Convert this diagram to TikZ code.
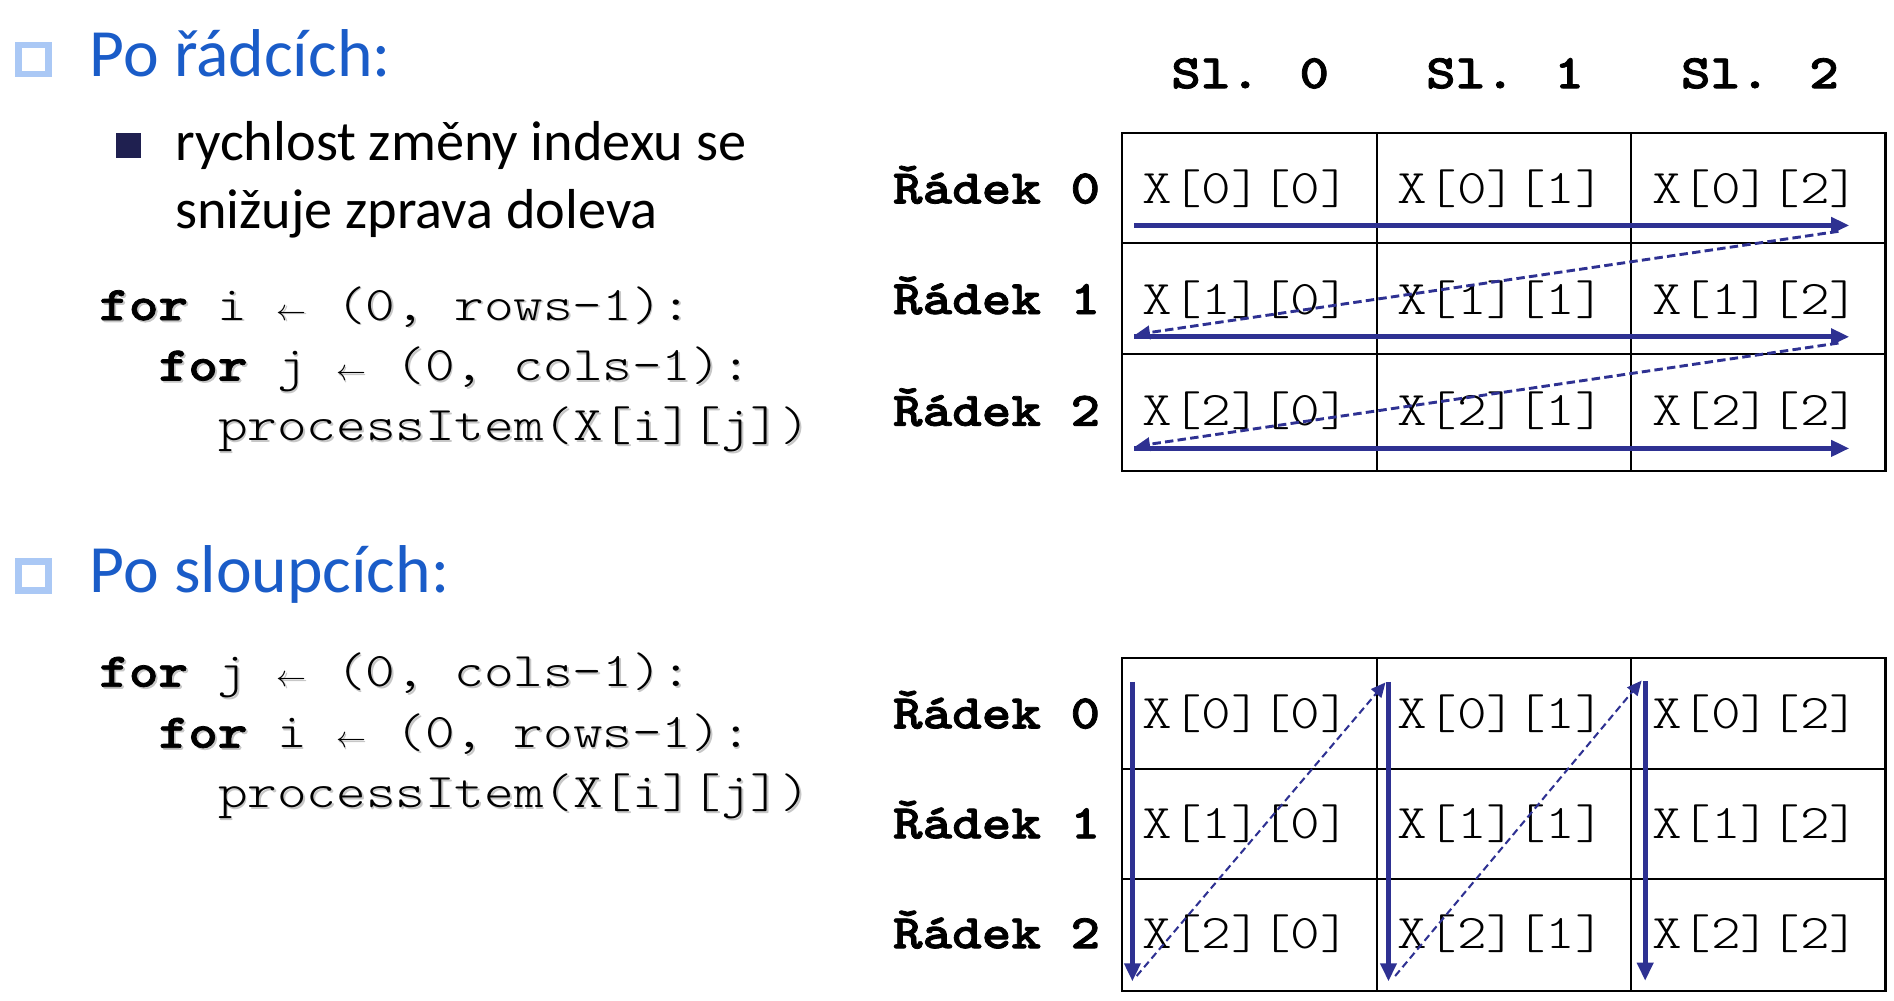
\documentclass[tikz,border=0pt]{standalone}
\usepackage{fontspec}
\usepackage{graphicx}
\setmainfont{Carlito}
\newfontfamily\monofam[Extension=.otf,BoldFont=lmmonolt10-bold,BoldFeatures={FakeBold=1.6},FakeStretch=1.167]{lmmonolt10-regular}
\usetikzlibrary{arrows.meta}
\definecolor{headblue}{RGB}{26,92,200}
\definecolor{lightsq}{RGB}{170,200,245}
\definecolor{navybul}{RGB}{31,32,80}
\definecolor{arrblue}{RGB}{46,49,146}
\newcommand\larr{\makebox[0.6127em]{\resizebox{0.62em}{!}{$\leftarrow$}}}
\tikzset{
  heading/.style={anchor=base west, inner sep=0pt, text=headblue, font=\fontsize{56}{66}\selectfont},
  bodytxt/.style={anchor=base west, inner sep=0pt, font=\fontsize{46.6}{56}\selectfont},
  codetxt/.style={anchor=base west, inner sep=0pt, font=\monofam\fontsize{40}{50}\selectfont},
  codeshadow/.style={codetxt, text=black!22},
  rowlab/.style={anchor=base east, inner sep=0pt, font=\monofam\bfseries\fontsize{40}{50}\selectfont},
  collab/.style={anchor=base, inner sep=0pt, font=\monofam\bfseries\fontsize{40}{50}\selectfont},
  celltxt/.style={anchor=base west, inner sep=0pt, font=\monofam\fontsize{40}{50}\selectfont},
  gridline/.style={draw=black, line width=1.8pt},
  solidarr/.style={draw=arrblue, line width=4.2pt, -{Triangle[length=15pt,width=13pt]}},
  dasharr/.style={draw=arrblue, line width=2.4pt, dash pattern=on 7pt off 3.5pt, -{Triangle[length=12pt,width=11pt]}},
  dasharrthin/.style={draw=arrblue, line width=1.7pt, dash pattern=on 6pt off 3.5pt, -{Triangle[length=12pt,width=11pt]}},
  bigbullet/.style={draw=lightsq, line width=5.5pt},
}
\begin{document}
\begin{tikzpicture}[x=1pt,y=-1pt]
\useasboundingbox (0,0) rectangle (1568,828);
\fill[white] (0,0) rectangle (1568,828);

% ---------- top section ----------
\draw[bigbullet] (15.2,37.2) rectangle (40.2,61.2);
\node[heading] (h1) at (74,63.5) {Po řádcích:};
\fill[navybul] (96,110) rectangle (117,131);
\node[bodytxt] (t1) at (145,133) {rychlost změny indexu se};
\node[bodytxt] (t2) at (145,189) {snižuje zprava doleva};

\node[codeshadow] (s1) at (83.5,266.5) {\textbf{for} i \larr{} (0, rows-1):};
\node[codeshadow] (s2) at (132.7,316.5) {\textbf{for} j \larr{} (0, cols-1):};
\node[codeshadow] (s3) at (181.9,366) {processItem(X[i][j])};
\node[codetxt] (c1) at (82,265) {\textbf{for} i \larr{} (0, rows-1):};
\node[codetxt] (c2) at (131.2,315) {\textbf{for} j \larr{} (0, cols-1):};
\node[codetxt] (c3) at (180.4,364.5) {processItem(X[i][j])};

% column headers
\node[collab] (k0) at (1035,73) {Sl. 0};
\node[collab] (k1) at (1246,73) {Sl. 1};
\node[collab] (k2) at (1457,73) {Sl. 2};

% top grid
\draw[gridline] (928.8,110) rectangle (1561,390);
\draw[gridline] (1140,110) -- (1140,390);
\draw[gridline] (1350.5,110) -- (1350.5,390);
\draw[gridline] (928.8,201) -- (1561,201);
\draw[gridline] (928.8,293.4) -- (1561,293.4);

\node[rowlab] (ra0) at (911,168.4) {Řádek 0};
\node[rowlab] (ra1) at (911,260) {Řádek 1};
\node[rowlab] (ra2) at (911,352.5) {Řádek 2};

\foreach \r/\yb in {0/168.4,1/260,2/352.5}{
  \foreach \c/\xl in {0/928.8,1/1140,2/1350.5}{
    \node[celltxt] (a\r\c) at (\xl+17,\yb) {X[\r][\c]};
  }
}

\coordinate (p0s) at (939,186.6);  \coordinate (p0e) at (1531,186.6);
\coordinate (p1s) at (939,278.8);  \coordinate (p1e) at (1531,278.8);
\coordinate (p2s) at (939,371.2);  \coordinate (p2e) at (1531,371.2);
\coordinate (q1s) at (1522,191.5); \coordinate (q1e) at (940,277);
\coordinate (q2s) at (1522,284);   \coordinate (q2e) at (940,369.5);
\draw[solidarr] (p0s) -- (p0e);
\draw[solidarr] (p1s) -- (p1e);
\draw[solidarr] (p2s) -- (p2e);
\draw[dasharr] (q1s) -- (q1e);
\draw[dasharr] (q2s) -- (q2e);

% ---------- bottom section ----------
\draw[bigbullet] (15.2,464.7) rectangle (40.2,488.7);
\node[heading] (h2) at (74,490.7) {Po sloupcích:};

\node[codeshadow] (s4) at (83.5,570) {\textbf{for} j \larr{} (0, cols-1):};
\node[codeshadow] (s5) at (132.7,620.5) {\textbf{for} i \larr{} (0, rows-1):};
\node[codeshadow] (s6) at (181.9,670) {processItem(X[i][j])};
\node[codetxt] (c4) at (82,568.5) {\textbf{for} j \larr{} (0, cols-1):};
\node[codetxt] (c5) at (131.2,619) {\textbf{for} i \larr{} (0, rows-1):};
\node[codetxt] (c6) at (180.4,668.5) {processItem(X[i][j])};

\draw[gridline] (928.8,545) rectangle (1561,820.6);
\draw[gridline] (1140,545) -- (1140,820.6);
\draw[gridline] (1350.5,545) -- (1350.5,820.6);
\draw[gridline] (928.8,636.5) -- (1561,636.5);
\draw[gridline] (928.8,728) -- (1561,728);

\node[rowlab] (rb0) at (911,603) {Řádek 0};
\node[rowlab] (rb1) at (911,694) {Řádek 1};
\node[rowlab] (rb2) at (911,785) {Řádek 2};

\foreach \r/\yb in {0/603,1/694,2/785}{
  \foreach \c/\xl in {0/928.8,1/1140,2/1350.5}{
    \node[celltxt] (b\r\c) at (\xl+17,\yb) {X[\r][\c]};
  }
}

\coordinate (v0s) at (937.5,564.4);  \coordinate (v0e) at (937.5,812.5);
\coordinate (v1s) at (1149.5,564.4); \coordinate (v1e) at (1149.5,812.5);
\coordinate (v2s) at (1362,564);     \coordinate (v2e) at (1362,812);
\coordinate (w1s) at (941,808);      \coordinate (w1e) at (1147,565);
\coordinate (w2s) at (1155,808);     \coordinate (w2e) at (1359,563.5);
\draw[solidarr] (v0s) -- (v0e);
\draw[solidarr] (v1s) -- (v1e);
\draw[solidarr] (v2s) -- (v2e);
\draw[dasharrthin] (w1s) -- (w1e);
\draw[dasharrthin] (w2s) -- (w2e);
\end{tikzpicture}
\end{document}
